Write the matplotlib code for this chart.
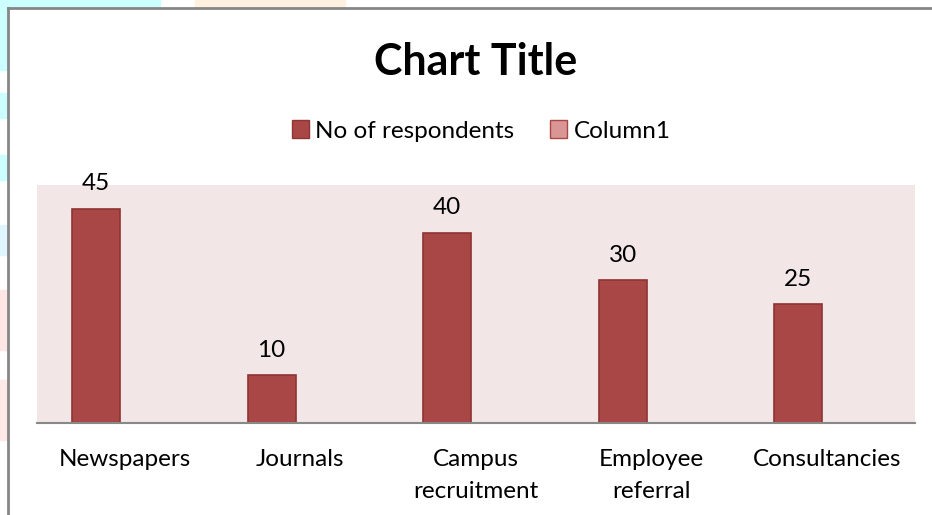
import numpy as np
import matplotlib
matplotlib.use('Agg')
import matplotlib.pyplot as plt
from matplotlib.patches import Patch, Rectangle
from matplotlib.lines import Line2D

plt.rcParams['font.family'] = ['Lato', 'DejaVu Sans']

# data
categories = ['Newspapers', 'Journals', 'Campus\nrecruitment', 'Employee\nreferral', 'Consultancies']
respondents = [45, 10, 40, 30, 25]
series_names = ['No of respondents', 'Column1']

W, H = 932, 515
fig = plt.figure(figsize=(W / 100, H / 100), dpi=100)

# faint screenshot leftovers outside the chart border
for (x0, y0, w, h, c) in [(0, 0, 160, 8, '#ccffff'), (0, 0, 8, 70, '#ccffff'),
                          (0, 93, 8, 25, '#ccffff'), (0, 155, 8, 25, '#ccffff'),
                          (0, 225, 8, 30, '#e0f6ff'), (0, 290, 8, 60, '#ffe6e6'),
                          (0, 380, 8, 60, '#ffe8e8'), (195, 0, 150, 8, '#fff0e0')]:
    fig.patches.append(Rectangle((x0 / W, 1 - (y0 + h) / H), w / W, h / H,
                                 transform=fig.transFigure, color=c, zorder=0))

# chart border (top and left only visible)
fig.lines.append(Line2D([8 / W, 8 / W], [0, 1 - 8 / H], transform=fig.transFigure,
                        color='#868686', lw=2))
fig.lines.append(Line2D([8 / W, 1], [1 - 8 / H, 1 - 8 / H], transform=fig.transFigure,
                        color='#868686', lw=2))

ax = fig.add_axes([37 / W, (H - 423) / H, 878 / W, 238 / H])
ax.set_facecolor('#f2e6e6')

x = np.arange(len(categories))
bar_color = '#a84745'
edge_color = '#8e3432'
bars = ax.bar(x - 0.164, respondents, width=0.273, color=bar_color,
              edgecolor=edge_color, linewidth=1.2, zorder=3)

for xi, v in zip(x - 0.164, respondents):
    ax.annotate(str(v), (xi, v), xytext=(0, 18), textcoords='offset points',
                ha='center', va='center', fontsize=17.5, color='#000000')

ax.set_xlim(-0.5, len(categories) - 0.5)
ax.set_ylim(0, 50)
ax.set_yticks([])
ax.set_xticks(x)
ax.set_xticklabels(categories, fontsize=17.5, linespacing=1.65)
ax.tick_params(axis='x', length=0, pad=18.5)
for s in ['top', 'right', 'left']:
    ax.spines[s].set_visible(False)
ax.spines['bottom'].set_color('#888888')
ax.spines['bottom'].set_linewidth(1.5)
ax.spines['bottom'].set_zorder(4)

fig.text(476 / W, 1 - 62 / H, 'Chart Title', ha='center', va='center',
         fontsize=31, fontweight='bold')

handles = [Patch(facecolor=bar_color, edgecolor=edge_color, label=series_names[0]),
           Patch(facecolor='#d99694', edgecolor=bar_color, label=series_names[1])]
fig.legend(handles=handles, loc='center', bbox_to_anchor=(481 / W, 1 - 131 / H),
           ncol=2, frameon=False, fontsize=17.5, handlelength=0.7, handleheight=0.7,
           handletextpad=0.25, columnspacing=1.5)

fig.savefig('out.png', dpi=100, facecolor='white')
